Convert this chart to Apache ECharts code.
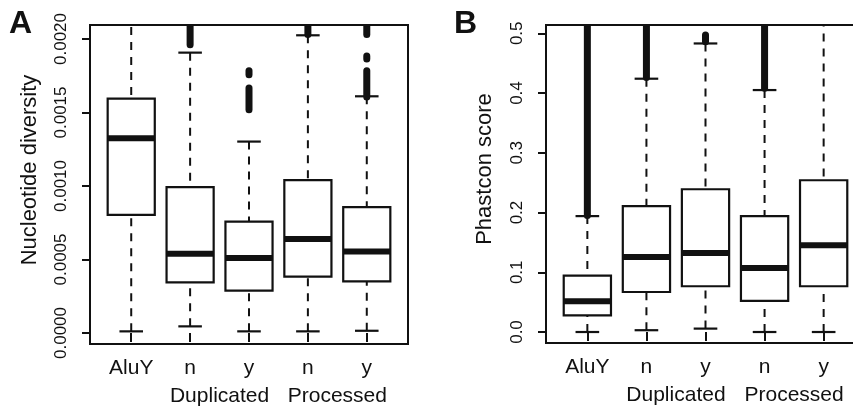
<!DOCTYPE html>
<html>
<head>
<meta charset="utf-8">
<script src="https://cdn.jsdelivr.net/npm/echarts@6/dist/echarts.min.js"></script>
<style>
  html, body { margin: 0; padding: 0; background: #fff; }
  #chart { width: 853px; height: 409px; }
</style>
</head>
<body>
<div id="chart"></div>
<script>
// categories along x (positions 1..5), group labels under them
const categories = ['AluY', 'n', 'y', 'n', 'y']
const groupLabels = ['Duplicated', 'Processed']
const groupPositions = [2.5, 4.5]

// box stats: [lower whisker, Q1, median, Q3, upper whisker]
const diversityBoxes = [
  [0.000011, 0.000804, 0.001325, 0.001594, 0.003],
  [0.000045, 0.000344, 0.000539, 0.000992, 0.001907],
  [0.000011, 0.000288, 0.000510, 0.000758, 0.001302],
  [0.000011, 0.000383, 0.000639, 0.001040, 0.002025],
  [0.000015, 0.000351, 0.000555, 0.000856, 0.001610]
]
// outlier runs: [position, from, to]
const diversityOutliers = [
  [2, 0.001960, 0.0022],
  [3, 0.002090, 0.002090],
  [3, 0.001756, 0.001783],
  [3, 0.001518, 0.001667],
  [4, 0.002030, 0.0022],
  [5, 0.002030, 0.0022],
  [5, 0.001864, 0.001884],
  [5, 0.001606, 0.001783]
]
const diversityTicks = [0, 0.0005, 0.0010, 0.0015, 0.0020]

const phastconBoxes = [
  [0.000, 0.028, 0.0514, 0.0945, 0.194],
  [0.003, 0.067, 0.1257, 0.2106, 0.424],
  [0.0057, 0.0766, 0.1324, 0.239, 0.483],
  [0.000, 0.052, 0.107, 0.194, 0.405],
  [0.000, 0.0766, 0.1453, 0.254, 0.6]
]
const phastconOutliers = [
  [1, 0.195, 0.6],
  [2, 0.426, 0.6],
  [3, 0.486, 0.497],
  [3, 0.512, 0.512],
  [4, 0.408, 0.6]
]
const phastconTicks = [0, 0.1, 0.2, 0.3, 0.4, 0.5]

const ink = '#111'
const font = 'Liberation Sans, Arial, sans-serif'

function renderBox (params, api) {
  const x = api.value(0)
  const lo = api.coord([x, api.value(1)])
  const q1 = api.coord([x, api.value(2)])
  const med = api.coord([x, api.value(3)])
  const q3 = api.coord([x, api.value(4)])
  const hi = api.coord([x, api.value(5)])
  const half = api.size([0.8, 0])[0] / 2
  const cap = half / 2
  const cx = lo[0]
  const dashed = { stroke: ink, lineWidth: 2, lineDash: [8, 7], fill: null }
  const solid = { stroke: ink, lineWidth: 2.2, fill: null }
  return {
    type: 'group',
    children: [
      { type: 'line', shape: { x1: cx, y1: lo[1], x2: cx, y2: q1[1] }, style: dashed },
      { type: 'line', shape: { x1: cx, y1: hi[1], x2: cx, y2: q3[1] }, style: dashed },
      { type: 'line', shape: { x1: cx - cap, y1: lo[1], x2: cx + cap, y2: lo[1] }, style: solid },
      { type: 'line', shape: { x1: cx - cap, y1: hi[1], x2: cx + cap, y2: hi[1] }, style: solid },
      { type: 'rect', shape: { x: cx - half, y: q3[1], width: half * 2, height: q1[1] - q3[1] }, style: { stroke: ink, lineWidth: 2.2, fill: '#fff' } },
      { type: 'line', shape: { x1: cx - half, y1: med[1], x2: cx + half, y2: med[1] }, style: { stroke: ink, lineWidth: 6 } }
    ]
  }
}

function renderOutliers (params, api) {
  const a = api.coord([api.value(0), api.value(1)])
  const b = api.coord([api.value(0), api.value(2)])
  return {
    type: 'line',
    shape: { x1: a[0], y1: a[1], x2: b[0], y2: b[1] },
    style: { stroke: ink, lineWidth: 7, lineCap: 'round' }
  }
}

const chart = echarts.init(document.getElementById('chart'))

function xAxes (gridIndex) {
  return [{
    type: 'value',
    gridIndex: gridIndex,
    position: 'bottom',
    min: 0.3,
    max: 5.7,
    axisLine: { show: false },
    splitLine: { show: false },
    axisTick: { show: true, length: 9, customValues: [1, 2, 3, 4, 5], lineStyle: { color: ink, width: 2 } },
    axisLabel: {
      customValues: [1, 2, 3, 4, 5],
      margin: 14,
      fontSize: 21,
      fontFamily: font,
      color: ink,
      formatter: v => categories[Math.round(v) - 1]
    }
  }, {
    type: 'value',
    gridIndex: gridIndex,
    position: 'bottom',
    offset: 0,
    min: 0.3,
    max: 5.7,
    axisLine: { show: false },
    splitLine: { show: false },
    axisTick: { show: false },
    axisLabel: {
      customValues: groupPositions,
      margin: 42,
      fontSize: 21,
      fontFamily: font,
      color: ink,
      formatter: v => groupLabels[groupPositions.indexOf(v)]
    }
  }]
}

function yAxis (gridIndex, min, max, ticks, digits) {
  return {
    type: 'value',
    gridIndex: gridIndex,
    min: min,
    max: max,
    axisLine: { show: false },
    splitLine: { show: false },
    axisTick: { show: true, length: 8, customValues: ticks, lineStyle: { color: ink, width: 2 } },
    axisLabel: {
      customValues: ticks,
      rotate: 90,
      margin: 20,
      fontSize: 17,
      fontFamily: font,
      color: ink,
      formatter: v => v.toFixed(digits)
    }
  }
}

const gridStyle = {
  show: true,
  borderColor: ink,
  borderWidth: 2,
  backgroundColor: 'transparent',
  containLabel: false,
  outerBoundsMode: 'none'
}

chart.setOption({
  animation: false,
  grid: [
    Object.assign({ left: 90, top: 25, width: 318, height: 319 }, gridStyle),
    Object.assign({ left: 546, top: 25, width: 319, height: 318 }, gridStyle)
  ],
  xAxis: xAxes(0).concat(xAxes(1)),
  yAxis: [
    yAxis(0, -0.000075, 0.002095, diversityTicks, 4),
    yAxis(1, -0.0184, 0.5139, phastconTicks, 1)
  ],
  graphic: [
    { type: 'text', left: 9, top: 8, style: { text: 'A', fontSize: 32, fontWeight: 'bold', fontFamily: font, fill: ink } },
    { type: 'text', left: 454, top: 8, style: { text: 'B', fontSize: 32, fontWeight: 'bold', fontFamily: font, fill: ink } },
    { type: 'text', x: 30, y: 170, rotation: Math.PI / 2, style: { text: 'Nucleotide diversity', fontSize: 22, fontFamily: font, fill: ink, align: 'center', verticalAlign: 'middle' } },
    { type: 'text', x: 485, y: 169, rotation: Math.PI / 2, style: { text: 'Phastcon score', fontSize: 22, fontFamily: font, fill: ink, align: 'center', verticalAlign: 'middle' } }
  ],
  series: [
    { type: 'custom', xAxisIndex: 0, yAxisIndex: 0, clip: true, renderItem: renderBox, data: diversityBoxes.map((b, i) => [i + 1].concat(b)) },
    { type: 'custom', xAxisIndex: 0, yAxisIndex: 0, clip: true, renderItem: renderOutliers, data: diversityOutliers },
    { type: 'custom', xAxisIndex: 2, yAxisIndex: 1, clip: true, renderItem: renderBox, data: phastconBoxes.map((b, i) => [i + 1].concat(b)) },
    { type: 'custom', xAxisIndex: 2, yAxisIndex: 1, clip: true, renderItem: renderOutliers, data: phastconOutliers }
  ]
})
</script>
</body>
</html>
